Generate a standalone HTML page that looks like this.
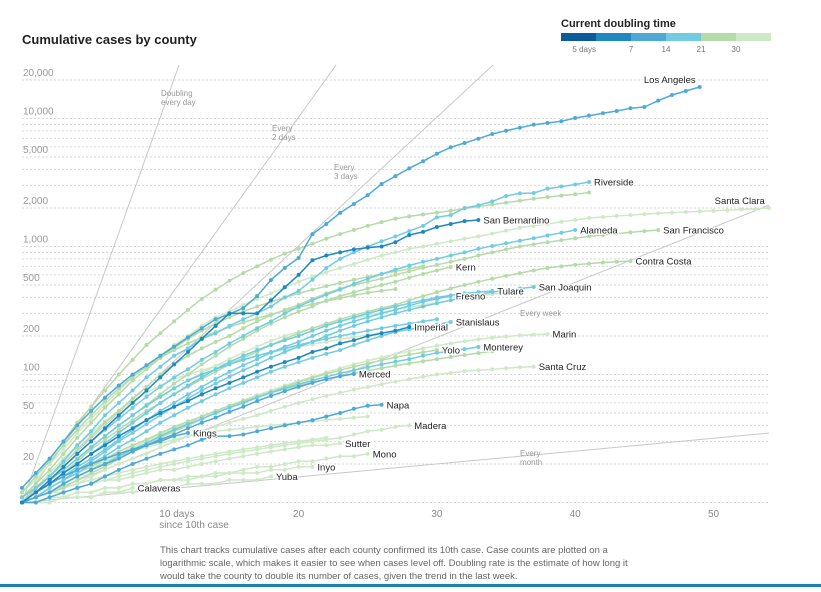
<!DOCTYPE html>
<html><head><meta charset="utf-8">
<style>
html,body{margin:0;padding:0;background:#fff;}
body{width:821px;height:587px;overflow:hidden;position:relative;font-family:"Liberation Sans",sans-serif;}
svg text{font-family:"Liberation Sans",sans-serif;}
</style></head>
<body>
<svg id="chart" width="821" height="587" viewBox="0 0 821 587" xmlns="http://www.w3.org/2000/svg">
<text x="22" y="44" font-size="13" font-weight="bold" fill="#222">Cumulative cases by county</text>
<g id="legend">
<text x="561" y="27" font-size="11" font-weight="bold" fill="#222">Current doubling time</text>
</g>
<g id="grid"></g>
<g id="refs"></g>
<g id="series"></g>
<g id="labels"></g>
<g id="xaxis"></g>
<text x="160" y="553" font-size="9.5" fill="#666">This chart tracks cumulative cases after each county confirmed its 10th case. Case counts are plotted on a</text>
<text x="160" y="566" font-size="9.5" fill="#666">logarithmic scale, which makes it easier to see when cases level off. Doubling rate is the estimate of how long it</text>
<text x="160" y="579" font-size="9.5" fill="#666">would take the county to double its number of cases, given the trend in the last week.</text>
<rect x="0" y="584" width="821" height="3" fill="#1a80b6"/>
</svg>
<script>
const yTickValues = [20000, 10000, 5000, 2000, 1000, 500, 200, 100, 50, 20];
const yTickLabels = ["20,000", "10,000", "5,000", "2,000", "1,000", "500", "200", "100", "50", "20"];
const xTickDays = [10, 20, 30, 40, 50];
const xTickLabels = ["10 days", "20", "30", "40", "50"];
const legendBreaks = [5, 7, 14, 21, 30];
const legendBreakLabels = ["5 days", "7", "14", "21", "30"];
const refDoublingDays = [1, 2, 3, 7, 30];

const countyNames = ["", "", "", "", "", "", "", "", "Calaveras", "Yuba", "Inyo", "Mono", "Sutter", "Madera", "Santa Cruz", "Marin", "Yolo", "Santa Clara", "San Francisco", "Contra Costa", "Kern", "", "Monterey", "Stanislaus", "Fresno", "Tulare", "San Joaquin", "Alameda", "Riverside", "Napa", "Merced", "Kings", "Los Angeles", "Imperial", "San Bernardino"];
const countyDoubling = [25, 30, 32, 35, 22, 18, 35, 25, 35, 35, 35, 35, 35, 32, 35, 32, 24, 35, 25, 25, 24, 25, 16, 15, 15, 16, 15, 16, 15, 11, 10, 9, 10, 6.5, 6.5];
const countyValues = [
[11,14,18,24,32,42,55,70,90,110,135,160,190,220,250,280,310,340,370,400,430,460,490,520,550,580,610,640,670,700],
[10,12,15,18,22,27,33,40,48,57,67,78,90,103,117,132,148,165,183,200,215,230,245,260,275,290,305,320,335,350,365,380,395,410,425,440],
[10,13,17,22,28,35,43,52,62,72,82,92,100,108,116,124,132,140,148,156,164,172,180,188,196,204,212,220,228,236],
[10,11,13,15,17,19,21,23,25,27,29,31,33,35,36,37,38,39,40,41,42,43,44,45,46,47],
[12,16,21,28,37,48,62,78,96,115,135,155,175,195,215,235,255,275,295,315,335,355,375,395,415,435,450,465],
[10,12,15,18,22,27,33,40,48,57,67,78,90,100,110,120,130,140,150,160,170,180,190,200,210,220,230,240,250,260,270],
[10,11,12,13,14,15,16,17,18,19,20,21,22,23,24,25,26,27,28,29,30,31,32],
[10,11,13,15,17,19,22,25,28,31,35,39,43,47,52,57,62,67,72,77,82,87,92,97,102,107,112,117,122,127,132,137,142,147,152],
[10,10,10,11,11,11,12,12,13],
[10,10,10,11,11,11,12,12,12,13,13,13,14,14,14,15,15,15,16],
[10,10,11,11,12,12,13,13,14,14,15,15,15,16,16,17,17,17,18,18,19,19],
[10,10,11,11,12,12,13,13,14,14,15,15,16,16,17,17,18,19,19,20,21,21,22,23,23,24],
[10,11,12,12,13,14,15,15,16,17,18,18,19,20,21,22,23,24,25,26,27,28,28,29],
[10,10,11,12,13,14,15,16,17,18,19,20,21,22,23,24,25,26,27,28,29,30,31,32,34,36,37,39,40],
[10,11,12,13,14,16,18,20,22,24,27,30,33,36,39,42,45,48,52,56,60,64,68,72,76,80,84,88,92,96,100,103,106,108,110,112,114,115],
[10,11,12,14,16,18,21,24,27,30,34,38,42,47,52,57,63,69,75,82,89,96,104,112,120,128,136,144,152,160,168,175,182,188,194,198,202,205,207],
[10,11,12,13,15,17,19,22,25,28,32,36,40,45,50,55,61,67,73,80,87,94,101,108,115,122,129,136,143,149,155],
[12,15,20,26,35,45,58,75,95,115,140,170,200,240,280,310,350,390,430,480,530,580,630,680,730,790,850,900,960,1000,1050,1100,1150,1200,1260,1330,1400,1450,1500,1560,1610,1670,1700,1730,1760,1790,1820,1840,1860,1880,1900,1920,1950,1970,2000],
[10,13,16,20,26,33,42,52,65,80,100,120,140,160,180,200,230,260,290,320,350,390,430,470,500,530,560,600,640,680,720,760,800,850,900,950,1000,1040,1080,1120,1160,1200,1230,1260,1290,1320,1345],
[10,12,14,17,21,26,31,37,44,52,60,70,80,92,105,120,135,150,170,190,210,230,250,270,290,310,330,350,380,410,440,470,500,530,560,590,620,650,680,700,720,735,750,760,771],
[10,12,15,18,22,27,33,40,48,58,70,85,100,120,140,165,190,220,250,280,310,340,380,410,440,470,500,530,570,610,650,692],
[12,16,22,30,42,56,75,100,130,170,210,260,320,390,460,540,620,700,790,880,960,1050,1150,1250,1350,1450,1550,1650,1720,1780,1840,1900,1980,2050,2130,2200,2280,2360,2430,2500,2560,2640],
[10,11,12,14,16,18,20,23,26,29,33,37,41,45,50,55,60,66,72,78,84,90,96,102,108,114,120,126,132,140,148,152,158,164],
[10,11,13,15,17,20,23,27,31,36,42,48,55,62,70,78,86,95,105,115,125,135,145,155,170,185,200,215,225,235,246,257],
[10,12,14,16,19,22,26,31,37,44,52,60,70,80,92,105,118,132,148,165,180,200,220,240,260,280,300,320,345,370,390,410],
[10,12,14,17,20,24,29,35,42,50,60,70,82,95,110,125,140,155,170,185,200,220,240,260,280,300,320,340,360,380,400,415,430,440,449],
[10,11,13,15,18,21,25,30,35,41,48,56,65,75,85,96,108,120,135,150,165,180,200,220,240,260,280,300,320,340,360,380,400,420,440,455,470,483],
[10,12,15,19,24,30,37,45,55,67,80,95,110,130,150,175,200,230,260,300,340,380,420,460,510,560,610,660,710,760,800,850,900,960,1010,1060,1110,1160,1220,1280,1345],
[11,13,16,21,28,36,48,60,75,95,115,140,160,190,210,240,270,300,340,400,450,550,680,800,900,1000,1100,1200,1320,1450,1690,1760,2000,2100,2250,2480,2600,2620,2830,2940,3050,3190],
[10,10,11,12,13,14,16,18,20,22,24,26,28,31,33,33,34,36,38,40,42,44,47,50,54,57,58],
[10,11,12,14,16,18,20,22,25,28,31,34,38,42,46,51,56,62,68,74,80,86,92,97,101],
[10,12,14,16,18,20,22,24,26,28,30,33,35],
[13,17,22,30,40,52,66,82,100,118,140,165,195,230,270,297,330,410,547,680,813,1250,1500,1830,2150,2520,3080,3550,4080,4630,5310,5960,6440,6950,7570,8030,8470,8950,9220,9510,10090,10520,10990,11450,12020,12300,13780,15270,16400,17620],
[10,12,14,17,20,24,28,33,38,44,50,56,62,70,78,86,95,105,115,125,135,150,160,175,185,200,210,220,235],
[10,12,15,19,24,30,38,48,60,75,95,120,150,190,240,300,300,300,380,480,600,780,850,900,950,980,1000,1080,1230,1300,1420,1500,1580,1610]
];

const NS = "http://www.w3.org/2000/svg";
const X0 = 22, PX_PER_DAY = 13.83, Y10 = 502.5, PX_PER_DECADE = 128, XMAX = 769, YTOP = 65;
function xScale(d){ return X0 + d * PX_PER_DAY; }
function yScale(v){ return Y10 - PX_PER_DECADE * Math.log10(v / 10); }
const palette = ["#0b5a99", "#1f88c0", "#4eaad5", "#72cce1", "#b4dba8", "#cde9c6"];
function colorFor(dbl){
  for (let i = 0; i < legendBreaks.length; i++) if (dbl < legendBreaks[i]) return palette[i];
  return palette[palette.length - 1];
}
function mk(tag, attrs, parent){
  const el = document.createElementNS(NS, tag);
  for (const k in attrs) el.setAttribute(k, attrs[k]);
  parent.appendChild(el);
  return el;
}

// legend
const legend = document.getElementById("legend");
const lx0 = 561, segW = 35;
for (let i = 0; i < palette.length; i++) {
  const r = mk("rect", {x: lx0 + i * segW, y: 33, width: segW, height: 8, fill: palette[i]}, legend);
  
  
}
for (let i = 0; i < legendBreaks.length; i++) {
  const t = mk("text", {x: lx0 + (i + 1) * segW, y: 52, "font-size": 8, fill: "#777", "text-anchor": i === 0 ? "end" : "middle"}, legend);
  t.textContent = legendBreakLabels[i];
  
  
}

// gridlines
const grid = document.getElementById("grid");
for (let dec = 10; dec <= 10000; dec *= 10) {
  for (let m = 1; m <= 9; m++) {
    const v = dec * m;
    if (v > 20000) break;
    const gy = yScale(v);
    const l = mk("line", {x1: X0, x2: XMAX, y1: gy, y2: gy, stroke: "#d6d6d6", "stroke-width": 1, "stroke-dasharray": "2,2"}, grid);
    
    
  }
}
{
  const gy = yScale(20000);
  const l = mk("line", {x1: X0, x2: XMAX, y1: gy, y2: gy, stroke: "#d6d6d6", "stroke-width": 1, "stroke-dasharray": "2,2"}, grid);
  
  
}
for (let i = 0; i < yTickValues.length; i++) {
  const t = mk("text", {x: 23, y: yScale(yTickValues[i]) - 4, "font-size": 10, fill: "#999"}, grid);
  t.textContent = yTickLabels[i];
  
  
}

// reference lines
const refs = document.getElementById("refs");
for (let i = 0; i < refDoublingDays.length; i++) {
  const d = refDoublingDays[i];
  let endDay = 54;
  const vEnd = 10 * Math.pow(2, endDay / d);
  if (yScale(vEnd) < YTOP) {
    const vTop = 10 * Math.pow(10, (Y10 - YTOP) / PX_PER_DECADE);
    endDay = d * Math.log2(vTop / 10);
  }
  const l = mk("line", {x1: xScale(0), y1: yScale(10), x2: xScale(endDay), y2: yScale(10 * Math.pow(2, endDay / d)), stroke: "#c8c8c8", "stroke-width": 1}, refs);
  
  
}
const refLabels = [["Doubling", "every day", 161, 96], ["Every", "2 days", 272, 131], ["Every", "3 days", 334, 170], ["Every week", "", 520, 316], ["Every", "month", 520, 456]];
refLabels.forEach(r => {
  const t = mk("text", {x: r[2], y: r[3], "font-size": 8, fill: "#999"}, refs);
  
  
  const a = mk("tspan", {x: r[2], dy: 0}, t); a.textContent = r[0];
  if (r[1]) { const b = mk("tspan", {x: r[2], dy: 9}, t); b.textContent = r[1]; }
});

// series
const sg = document.getElementById("series");
const lg = document.getElementById("labels");
const order = countyValues.map((_, i) => i).sort((a, b) => countyDoubling[b] - countyDoubling[a]);
order.forEach(i => {
  const vals = countyValues[i];
  const col = colorFor(countyDoubling[i]);
  const g = mk("g", {}, sg);
  
  
  const pts = vals.map((v, d) => xScale(d).toFixed(1) + "," + yScale(v).toFixed(1)).join(" ");
  const pl = mk("polyline", {points: pts, fill: "none", stroke: col, "stroke-width": 1.5, "stroke-linejoin": "round"}, g);
  
  
  vals.forEach((v, d) => {
    const c = mk("circle", {cx: xScale(d), cy: yScale(v), r: 2, fill: col}, g);
    
    
  });
  if (countyNames[i]) {
    const last = vals.length - 1;
    let lx = xScale(last) + 5, ly = yScale(vals[last]) + 3.5, anchor = "start";
    if (countyNames[i] === "Los Angeles" || countyNames[i] === "Santa Clara") { lx = xScale(last) - 4; ly = yScale(vals[last]) - 4; anchor = "end"; }
    const t = mk("text", {x: lx, y: ly, "font-size": 9.5, fill: "#222", "text-anchor": anchor, stroke: "#fff", "stroke-width": 2.5, "paint-order": "stroke"}, lg);
    t.textContent = countyNames[i];
    
    
  }
});

// x axis labels
const xa = document.getElementById("xaxis");
for (let i = 0; i < xTickDays.length; i++) {
  const t = mk("text", {x: xScale(xTickDays[i]) + (i === 0 ? -1 : 0), y: 517, "font-size": 10, fill: "#888", "text-anchor": i === 0 ? "start" : "middle"}, xa);
  t.textContent = xTickLabels[i];
  
  
}
{
  const t = mk("text", {x: xScale(10) - 1, y: 528, "font-size": 10, fill: "#888"}, xa);
  t.textContent = "since 10th case";
  
  
}
</script>
</body></html>
